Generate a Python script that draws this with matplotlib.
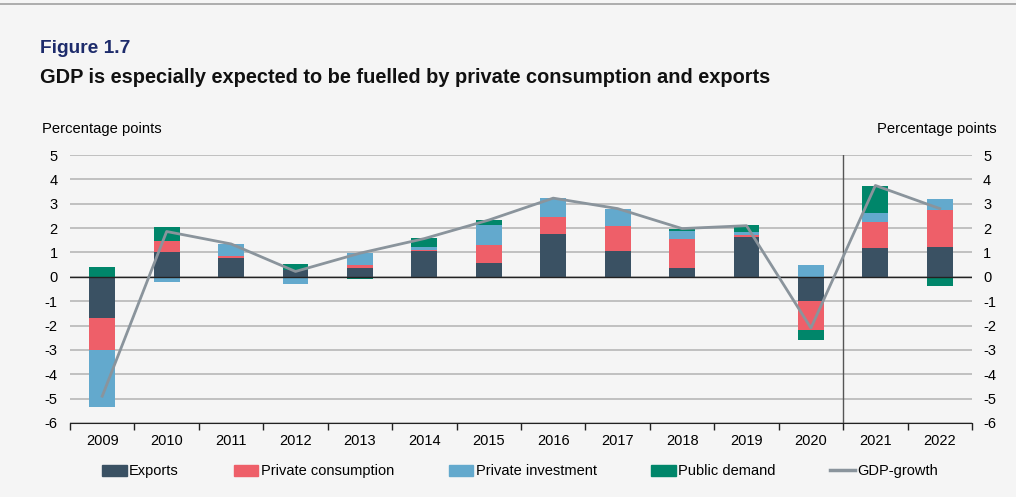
import numpy as np
import matplotlib.pyplot as plt
from matplotlib.lines import Line2D
from matplotlib.patches import Patch

plt.rcParams['font.family'] = ['Liberation Sans', 'DejaVu Sans']
plt.rcParams['axes.unicode_minus'] = False

years = ['2009', '2010', '2011', '2012', '2013', '2014', '2015',
         '2016', '2017', '2018', '2019', '2020', '2021', '2022']
exports = [-1.68, 1.02, 0.79, 0.26, 0.38, 1.08, 0.55, 1.77, 1.08, 0.37, 1.64, -0.98, 1.20, 1.24]
consumption = [-1.31, 0.45, 0.05, 0.04, 0.10, 0.04, 0.74, 0.68, 1.01, 1.17, 0.07, -1.19, 1.04, 1.50]
investment = [-2.35, -0.20, 0.49, -0.30, 0.50, 0.10, 0.82, 0.80, 0.71, 0.34, 0.14, 0.49, 0.38, 0.44]
public = [0.42, 0.57, 0.00, 0.22, -0.07, 0.38, 0.22, -0.05, 0.00, 0.10, 0.26, -0.41, 1.12, -0.38]
gdp = [-4.9, 1.86, 1.35, 0.22, 0.97, 1.57, 2.33, 3.23, 2.80, 1.98, 2.10, -2.10, 3.75, 2.80]

series = [('Exports', exports, '#3a5163'),
          ('Private consumption', consumption, '#ee5f69'),
          ('Private investment', investment, '#63a9cd'),
          ('Public demand', public, '#00866a')]
gdp_color = '#8a949c'
bg = '#f5f5f5'

fig = plt.figure(figsize=(10.16, 4.97), dpi=100, facecolor=bg)
ax = fig.add_axes([0.0689, 0.1489, 0.8878, 0.5392], facecolor=bg)

x = np.arange(len(years))
pos_base = np.zeros(len(years))
neg_base = np.zeros(len(years))
for name, vals, color in series:
    v = np.array(vals)
    bottom = np.where(v >= 0, pos_base, neg_base)
    ax.bar(x, v, width=0.4, bottom=bottom, color=color, zorder=3)
    pos_base += np.where(v >= 0, v, 0)
    neg_base += np.where(v < 0, v, 0)

ax.plot(x, gdp, color=gdp_color, lw=2, zorder=4)

ax.set_xlim(-0.5, len(years) - 0.5)
ax.set_ylim(-6, 5)
ax.set_yticks(range(-6, 6))
ax.yaxis.grid(True, color='#b2b2b2', lw=1.1, zorder=0)
ax.axhline(0, color='#222222', lw=1, zorder=3.5)
ax.axvline(11.5, color='#555555', lw=1, zorder=2)

ax.set_xticks(x)
ax.set_xticklabels(years, fontsize=10.5)
ax.set_xticks(np.arange(-0.5, len(years)), minor=True)
ax.tick_params(axis='x', which='major', length=0, pad=8)
ax.tick_params(axis='x', which='minor', length=5, color='#222222', width=1)
ax.tick_params(axis='y', length=0, labelsize=10.5, pad=9)

for side in ['left', 'right', 'top']:
    ax.spines[side].set_visible(False)
ax.spines['bottom'].set_color('#222222')

ax2 = ax.twinx()
ax2.set_ylim(ax.get_ylim())
ax2.set_yticks(range(-6, 6))
ax2.tick_params(axis='y', length=0, labelsize=10.5, pad=8)
for side in ['left', 'right', 'top', 'bottom']:
    ax2.spines[side].set_visible(False)

# header
fig.add_artist(Line2D([0, 1], [0.992, 0.992], color='#a0a0a0', lw=1.2))
fig.text(0.039, 0.903, 'Figure 1.7', fontsize=13.8, fontweight='bold', color='#1d2b6b', va='center')
fig.text(0.039, 0.845, 'GDP is especially expected to be fuelled by private consumption and exports',
         fontsize=14.4, fontweight='bold', color='#111111', va='center')
fig.text(0.041, 0.740, 'Percentage points', fontsize=10.6, va='center')
fig.text(0.981, 0.740, 'Percentage points', fontsize=10.6, va='center', ha='right')

handles = [Patch(color=c, label=n) for n, _, c in series]
handles.append(Line2D([], [], color=gdp_color, lw=2.5, label='GDP-growth'))
fig.legend(handles=handles, ncol=5, loc='center', bbox_to_anchor=(0.512, 0.052),
           frameon=False, fontsize=10.5, handlelength=1.7, handleheight=0.8,
           handletextpad=0.15, columnspacing=3.75)

fig.savefig('out.png', dpi=100, facecolor=bg)
